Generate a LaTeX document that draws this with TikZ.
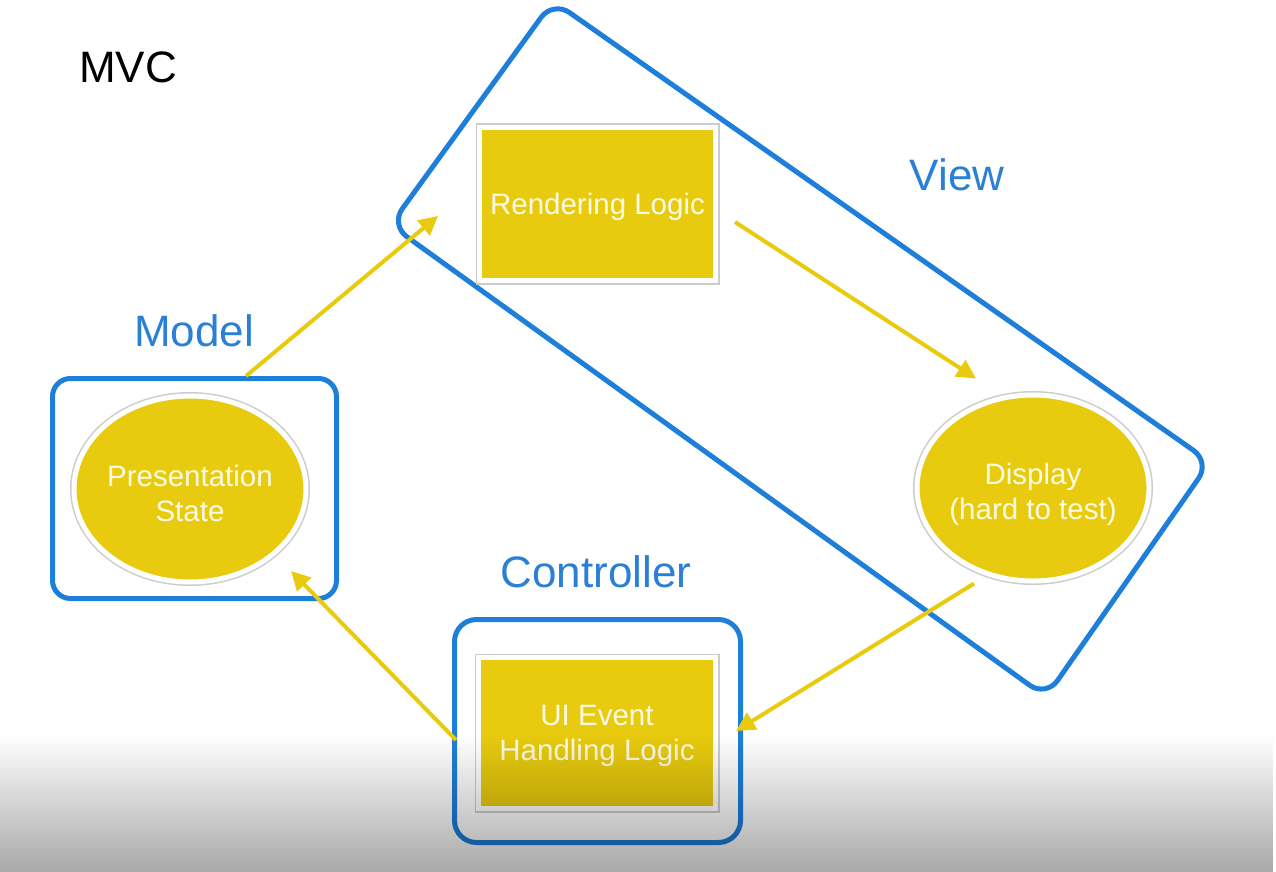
\documentclass[tikz,border=0pt]{standalone}
\usepackage{fontspec}
\setmainfont{Liberation Sans}
\usetikzlibrary{arrows.meta,calc,shapes.geometric,fadings}
\definecolor{mvcblue}{HTML}{1E7FDA}
\definecolor{lblblue}{HTML}{2B80D6}
\definecolor{mvcyellow}{HTML}{E8CB0E}
\definecolor{txtwhite}{HTML}{FFFBE6}
\tikzfading[name=bottomfade, top color=transparent!100, middle color=transparent!88, bottom color=transparent!0]
\begin{document}
\begin{tikzpicture}[x=1pt,y=-1pt,
  grpline/.style={draw=mvcblue, line width=5pt, rounded corners=#1},
  grp/.style={rectangle, draw=mvcblue, line width=5pt, rounded corners=#1, inner sep=0pt},
  frame/.style={rectangle, fill=mvcyellow, draw=white, line width=5pt, inner sep=0pt,
    preaction={draw=black!20, line width=8pt}},
  oval/.style={ellipse, fill=mvcyellow, draw=white, line width=5pt, inner sep=0pt,
    preaction={draw=black!20, line width=8pt},
    minimum width=232pt, minimum height=186pt},
  intext/.style={text=txtwhite, align=center, inner sep=0pt, font=\fontsize{29.5}{35}\selectfont},
  lbl/.style={anchor=base, text=lblblue, font=\fontsize{44}{50}\selectfont, inner sep=0pt},
  flow/.style={draw=mvcyellow, line width=4pt, -{Triangle[length=19pt,width=19pt]}}
]
\useasboundingbox (0,0) rectangle (1276,872);
\fill[white] (0,0) rectangle (1276,872);

% View group outline (tilted rounded rectangle)
\coordinate (vt) at (553,1);
\coordinate (vr) at (1210,462);
\coordinate (vb) at (1046,697);
\coordinate (vl) at (390.5,225);
\draw[grpline=20] ($(vt)!0.5!(vr)$) -- (vr) -- (vb) -- (vl) -- (vt) -- cycle;

% Model and Controller group outlines
\node[grp=18, minimum width=284pt, minimum height=220pt] (model) at (194.5,488.5) {};
\node[grp=22, minimum width=286pt, minimum height=223pt] (ctrl) at (597.5,731) {};

% group labels
\node[lbl, text=black] (mvc) at (128,83) {MVC};
\node[lbl] (modellbl) at (194,346) {Model};
\node[lbl] (viewlbl) at (957,190) {View};
\node[lbl] (ctrllbl) at (596,587) {Controller};

% elements
\node[frame, minimum width=236pt, minimum height=153pt] (render) at (597.5,204) {};
\node[frame, minimum width=237pt, minimum height=151pt] (ui) at (597,733) {};
\node[oval] (state) at (190,489) {};
\node[oval] (display) at (1033,488) {};

% element texts
\node[intext] (rendertxt) at ($(render.center)+(0,3)$) {Rendering Logic};
\node[intext] (uitxt) at ($(ui.center)+(0,3)$) {UI Event\\Handling Logic};
\node[intext] (statetxt) at ($(state.center)+(0,4)$) {Presentation\\State};
\node[intext] (displaytxt) at ($(display.center)+(0,6)$) {Display\\(hard to test)};

% connectors
\draw[flow] ($(model.north)+(51.5,0)$) -- ($(render.west)+(-39,12)$);
\draw[flow] ($(render.east)+(17,18)$) -- ($(display.north)+(-57,-14)$);
\draw[flow] ($(display.south)+(-59,0)$) -- ($(ctrl.east)+(-7,0)$);
\draw[flow] ($(ctrl.west)+(4,9)$) -- ($(model.south east)+(-48,-30)$);

% bottom vignette
\fill[black, fill opacity=0.34, path fading=bottomfade] (0,735) rectangle (1276,872);
\end{tikzpicture}
\end{document}
